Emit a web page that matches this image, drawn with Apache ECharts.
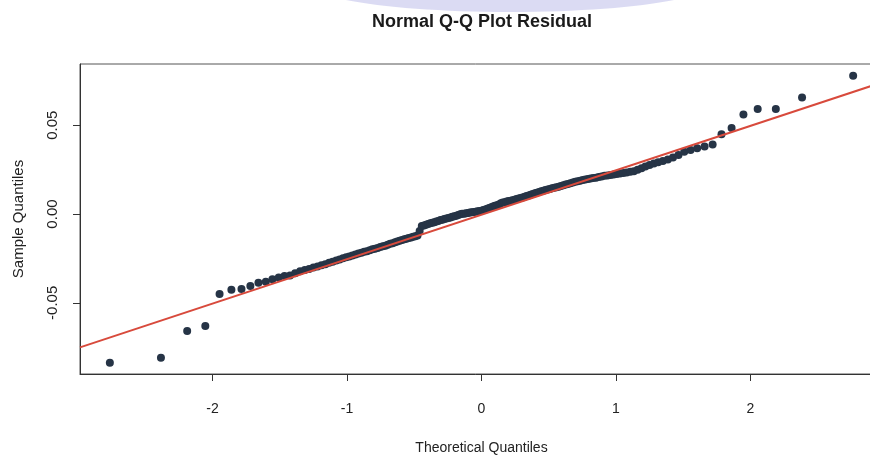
<!DOCTYPE html>
<html>
<head>
<meta charset="utf-8">
<script src="https://cdn.jsdelivr.net/npm/echarts@6/dist/echarts.min.js"></script>
<style>
html,body{margin:0;padding:0;background:#fff;}
#chart{width:870px;height:455px;}
</style>
</head>
<body>
<div id="chart"></div>
<script>
const theoretical = [
-2.764,-2.384,-2.189,-2.054,-1.948,-1.860,-1.785,-1.719,-1.659,-1.604,
-1.555,-1.508,-1.465,-1.424,-1.386,-1.349,-1.314,-1.282,-1.250,-1.219,
-1.190,-1.161,-1.133,-1.107,-1.080,-1.055,-1.030,-1.006,-0.983,-0.960,
-0.937,-0.915,-0.893,-0.872,-0.852,-0.831,-0.811,-0.792,-0.772,-0.753,
-0.734,-0.715,-0.697,-0.679,-0.661,-0.643,-0.626,-0.609,-0.591,-0.574,
-0.558,-0.541,-0.524,-0.508,-0.492,-0.476,-0.460,-0.444,-0.428,-0.412,
-0.397,-0.381,-0.366,-0.351,-0.336,-0.321,-0.305,-0.291,-0.276,-0.261,
-0.246,-0.231,-0.217,-0.202,-0.187,-0.173,-0.158,-0.144,-0.129,-0.115,
-0.100,-0.086,-0.072,-0.057,-0.043,-0.029,-0.014,0,
0.014,0.029,0.043,0.057,0.072,0.086,0.100,0.115,0.129,0.144,
0.158,0.173,0.187,0.202,0.217,0.231,0.246,0.261,0.276,0.291,
0.305,0.321,0.336,0.351,0.366,0.381,0.397,0.412,0.428,0.444,
0.460,0.476,0.492,0.508,0.524,0.541,0.558,0.574,0.591,0.609,
0.626,0.643,0.661,0.679,0.697,0.715,0.734,0.753,0.772,0.792,
0.811,0.831,0.852,0.872,0.893,0.915,0.937,0.960,0.983,1.006,
1.030,1.055,1.080,1.107,1.133,1.161,1.190,1.219,1.250,1.282,
1.314,1.349,1.386,1.424,1.465,1.508,1.555,1.604,1.659,1.719,
1.785,1.860,1.948,2.054,2.189,2.384,2.764
];
const sample = [
-0.0837,-0.0809,-0.0659,-0.0631,-0.0450,-0.0426,-0.0422,-0.0405,-0.0387,-0.0381,
-0.0368,-0.0357,-0.0349,-0.0346,-0.0333,-0.0322,-0.0315,-0.0309,-0.0301,-0.0295,
-0.0289,-0.0283,-0.0275,-0.0269,-0.0262,-0.0256,-0.0249,-0.0244,-0.0239,-0.0233,
-0.0228,-0.0223,-0.0218,-0.0213,-0.0209,-0.0204,-0.0199,-0.0195,-0.0191,-0.0186,
-0.0182,-0.0178,-0.0173,-0.0168,-0.0164,-0.0159,-0.0155,-0.0151,-0.0146,-0.0142,
-0.0139,-0.0135,-0.0132,-0.0128,-0.0125,-0.0121,-0.0096,-0.0068,-0.0064,-0.0060,
-0.0056,-0.0052,-0.0049,-0.0046,-0.0042,-0.0039,-0.0034,-0.0032,-0.0028,-0.0025,
-0.0022,-0.0019,-0.0015,-0.0012,-0.0009,-0.0006,-0.0001,0.0001,0.0002,0.0005,
0.0006,0.0008,0.0010,0.0012,0.0013,0.0015,0.0017,0.0019,0.0022,0.0026,
0.0030,0.0034,0.0038,0.0042,0.0046,0.0050,0.0053,0.0061,0.0065,0.0067,
0.0070,0.0073,0.0075,0.0078,0.0081,0.0084,0.0087,0.0090,0.0093,0.0098,
0.0101,0.0105,0.0109,0.0113,0.0117,0.0120,0.0124,0.0128,0.0131,0.0135,
0.0138,0.0141,0.0145,0.0148,0.0151,0.0154,0.0158,0.0162,0.0166,0.0169,
0.0173,0.0178,0.0182,0.0185,0.0188,0.0191,0.0194,0.0197,0.0200,0.0203,
0.0205,0.0208,0.0212,0.0215,0.0217,0.0220,0.0223,0.0225,0.0228,0.0231,
0.0234,0.0238,0.0241,0.0250,0.0258,0.0267,0.0276,0.0284,0.0292,0.0299,
0.0307,0.0318,0.0332,0.0351,0.0360,0.0370,0.0381,0.0392,0.0450,0.0484,
0.0561,0.0591,0.0591,0.0657,0.0779
];
const qqLineX = [-2.986, 2.986];
const qqLineY = [-0.0751, 0.0743];
const xTicks = [-2, -1, 0, 1, 2];
const yTicks = [-0.05, 0, 0.05];

const points = theoretical.map((x, i) => [x, sample[i]]);
const linePts = qqLineX.map((x, i) => [x, qqLineY[i]]);

const FONT = '"Liberation Sans", Arial, Helvetica, sans-serif';
const chart = echarts.init(document.getElementById('chart'), null, {renderer: 'canvas'});
chart.setOption({
  animation: false,
  backgroundColor: '#ffffff',
  title: {
    text: 'Normal Q-Q Plot Residual',
    left: 367, top: 8,
    textStyle: {fontFamily: FONT, fontSize: 18, fontWeight: 'bold', color: '#1a1a1a'}
  },
  graphic: [{
    type: 'ellipse', silent: true, z: -1,
    shape: {cx: 510, cy: -16, rx: 200, ry: 28},
    style: {fill: 'rgba(204,204,238,0.7)'}
  }],
  grid: {left: 80, top: 64, width: 803, height: 310, show: true, borderColor: '#555', borderWidth: 1,
    containLabel: false, outerBoundsMode: 'none'},
  xAxis: {
    type: 'value', min: -2.986, max: 2.986,
    axisLine: {show: true, onZero: false, lineStyle: {color: '#333', width: 1}},
    axisTick: {show: true, customValues: xTicks, length: 7, lineStyle: {color: '#333'}},
    axisLabel: {customValues: xTicks, fontFamily: FONT, fontSize: 14, color: '#222', margin: 28,
      formatter: v => String(v)},
    splitLine: {show: false},
    name: 'Theoretical Quantiles', nameLocation: 'middle', nameGap: 67,
    nameTextStyle: {fontFamily: FONT, fontSize: 14, color: '#222'}
  },
  yAxis: {
    type: 'value', min: -0.0901, max: 0.0845,
    axisLine: {show: true, onZero: false, lineStyle: {color: '#333', width: 1}},
    axisTick: {show: true, customValues: yTicks, length: 7, lineStyle: {color: '#333'}},
    axisLabel: {customValues: yTicks, rotate: 90, fontFamily: FONT, fontSize: 15, color: '#222', margin: 20,
      formatter: v => v.toFixed(2)},
    splitLine: {show: false},
    name: 'Sample Quantiles', nameLocation: 'middle', nameGap: 54, nameRotate: 90,
    nameTextStyle: {fontFamily: FONT, fontSize: 15, color: '#222'}
  },
  series: [{
    type: 'scatter', data: points, symbol: 'circle', symbolSize: 8,
    itemStyle: {color: '#263446', opacity: 1}, z: 2
  }, {
    type: 'line', data: linePts, symbol: 'none', clip: true,
    lineStyle: {color: '#d84a3c', width: 2}, z: 3
  }]
});
</script>
</body>
</html>
